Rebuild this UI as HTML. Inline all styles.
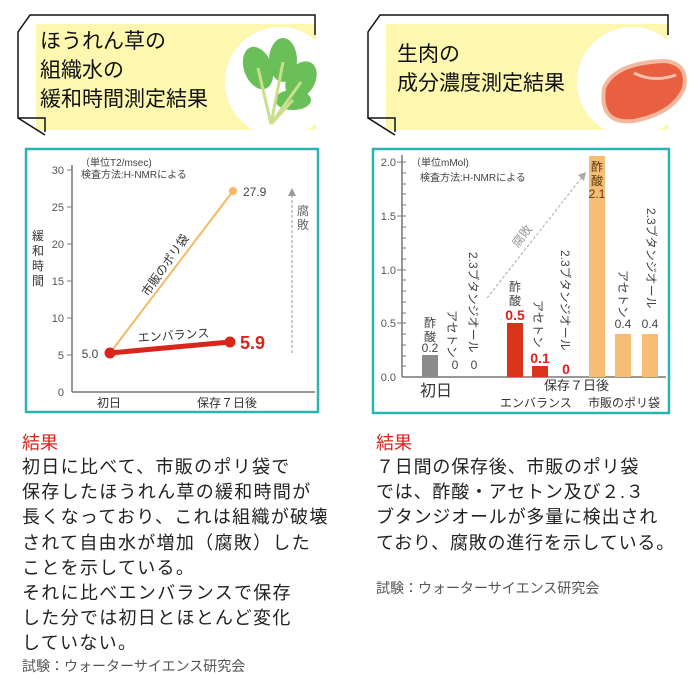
<!DOCTYPE html>
<html><head><meta charset="utf-8"><style>
body{margin:0;width:700px;height:700px;background:#fff;font-family:"Liberation Sans","Noto Sans CJK JP",sans-serif;overflow:hidden;position:relative}
.a{position:absolute;white-space:nowrap}
.t{font-size:18px;color:#222;line-height:25.2px}
.h{font-size:18px;color:#d9261c}
.s{font-size:14px;color:#555}
</style></head><body>
<svg width="700" height="700" style="position:absolute;left:0;top:0" font-family="Liberation Sans, Noto Sans CJK JP, sans-serif">
<rect x="36" y="24" width="280" height="106" fill="#fdf7b0"/>
<polyline points="45,132 45,118 18,118 18,32 30,15 315,15 315,35" fill="none" stroke="#111" stroke-width="1.5"/>
<polyline points="18,118 45,135" fill="none" stroke="#111" stroke-width="1.5"/>
<rect x="386" y="24" width="282" height="106" fill="#fdf7b0"/>
<polyline points="395,132 395,118 368,118 368,32 380,15 668,15 668,35" fill="none" stroke="#111" stroke-width="1.5"/>
<polyline points="368,118 395,135" fill="none" stroke="#111" stroke-width="1.5"/>
<circle cx="280" cy="82" r="55" fill="#fff"/>
<circle cx="632" cy="82" r="55" fill="#fff"/>
<g fill="#6bbf59"><ellipse cx="258" cy="68" rx="14" ry="22" transform="rotate(-20 258 68)"/><ellipse cx="283" cy="60" rx="14" ry="22"/><ellipse cx="301" cy="80" rx="14" ry="20" transform="rotate(30 301 80)"/><ellipse cx="293" cy="100" rx="18" ry="10"/></g>
<g stroke="#c8e08a" stroke-width="3"><line x1="271" y1="124" x2="258" y2="68"/><line x1="271" y1="124" x2="283" y2="62"/><line x1="271" y1="124" x2="301" y2="82"/><line x1="271" y1="124" x2="293" y2="100"/></g>
<path d="M604,88 Q614,63 664,61 Q689,63 684,88 Q674,113 634,121 Q599,125 604,88Z" fill="#e8603f" stroke="#f2b9a0" stroke-width="4"/>
<path d="M634,73 Q654,83 676,75" stroke="#f6c2ad" stroke-width="3" fill="none"/>
<rect x="26" y="149" width="292" height="263" fill="none" stroke="#2bb3b0" stroke-width="2.5"/>
<rect x="373" y="149" width="296" height="264" fill="none" stroke="#2bb3b0" stroke-width="2.5"/>
<g stroke="#777" stroke-width="1.5"><line x1="72" y1="165" x2="72" y2="392"/><line x1="72" y1="392" x2="315" y2="392"/></g>
<g stroke="#777" stroke-width="1"><line x1="67" y1="170" x2="72" y2="170"/><line x1="67" y1="207" x2="72" y2="207"/><line x1="67" y1="244" x2="72" y2="244"/><line x1="67" y1="281" x2="72" y2="281"/><line x1="67" y1="318" x2="72" y2="318"/><line x1="67" y1="355" x2="72" y2="355"/></g>
<g font-size="11" fill="#555" text-anchor="end"><text x="64" y="174">30</text><text x="64" y="211">25</text><text x="64" y="248">20</text><text x="64" y="285">15</text><text x="64" y="322">10</text><text x="64" y="359">5</text><text x="64" y="396">0</text></g>
<g font-size="10" fill="#444"><text x="80" y="166">（単位T2/msec)</text><text x="81" y="178">検査方法:H-NMRによる</text></g>
<g font-size="12" fill="#333"><text x="32" y="240">緩</text><text x="32" y="255">和</text><text x="32" y="270">時</text><text x="32" y="285">間</text></g>
<line x1="110" y1="353" x2="233" y2="191" stroke="#f7b766" stroke-width="2"/>
<circle cx="233" cy="191" r="4" fill="#f7b766"/>
<line x1="110" y1="353" x2="230" y2="342" stroke="#d9261c" stroke-width="5"/>
<circle cx="110" cy="353" r="5.5" fill="#d9261c"/><circle cx="230" cy="342" r="5.5" fill="#d9261c"/>
<text x="90" y="358" font-size="12" fill="#444" text-anchor="middle">5.0</text>
<text x="243" y="196" font-size="12" fill="#444">27.9</text>
<text x="240" y="349" font-size="18" font-weight="bold" fill="#d9261c">5.9</text>
<text x="138" y="342" font-size="12" fill="#333" transform="rotate(-4 138 342)">エンバランス</text>
<text x="148" y="297" font-size="12" fill="#333" transform="rotate(-55 148 297)">市販のポリ袋</text>
<line x1="292" y1="195" x2="292" y2="355" stroke="#999" stroke-dasharray="3,2"/>
<polygon points="288,196 296,196 292,188" fill="#999"/>
<text x="297" y="215" font-size="12" fill="#666">腐</text><text x="297" y="229" font-size="12" fill="#666">敗</text>
<g font-size="12" fill="#333"><text x="97" y="407">初日</text><text x="197" y="407">保存７日後</text></g>
<g stroke="#777" stroke-width="1.5"><line x1="402" y1="155" x2="402" y2="377"/><line x1="402" y1="377" x2="666" y2="377"/></g>
<g stroke="#777" stroke-width="1">
<line x1="397" y1="162" x2="406" y2="162"/><line x1="397" y1="216" x2="406" y2="216"/><line x1="397" y1="270" x2="406" y2="270"/><line x1="397" y1="323" x2="406" y2="323"/>
<line x1="402" y1="173" x2="406" y2="173"/><line x1="402" y1="184" x2="406" y2="184"/><line x1="402" y1="194" x2="406" y2="194"/><line x1="402" y1="205" x2="406" y2="205"/><line x1="402" y1="227" x2="406" y2="227"/><line x1="402" y1="238" x2="406" y2="238"/><line x1="402" y1="248" x2="406" y2="248"/><line x1="402" y1="259" x2="406" y2="259"/><line x1="402" y1="280" x2="406" y2="280"/><line x1="402" y1="291" x2="406" y2="291"/><line x1="402" y1="302" x2="406" y2="302"/><line x1="402" y1="313" x2="406" y2="313"/><line x1="402" y1="334" x2="406" y2="334"/><line x1="402" y1="345" x2="406" y2="345"/><line x1="402" y1="356" x2="406" y2="356"/><line x1="402" y1="366" x2="406" y2="366"/></g>
<g font-size="11" fill="#555" text-anchor="end"><text x="396" y="166">2.0</text><text x="396" y="220">1.5</text><text x="396" y="274">1.0</text><text x="396" y="327">0.5</text><text x="396" y="381">0.0</text></g>
<g font-size="10" fill="#444"><text x="411" y="166">（単位mMol)</text><text x="420" y="181">検査方法:H-NMRによる</text></g>
<rect x="422" y="355" width="16" height="22" fill="#8c8c8c"/>
<rect x="507" y="323" width="16" height="54" fill="#d9331c"/>
<rect x="532" y="366" width="16" height="11" fill="#d9331c"/>
<rect x="589" y="156" width="16" height="221" fill="#f8bd74"/>
<rect x="615" y="334" width="16" height="43" fill="#f8bd74"/>
<rect x="642" y="334" width="16" height="43" fill="#f8bd74"/>
<line x1="487" y1="298" x2="583" y2="176" stroke="#aaa" stroke-dasharray="3,2"/>
<polygon points="586,172 578,175 584,181" fill="#aaa"/>
<text x="518" y="248" font-size="12" fill="#999" transform="rotate(-52 518 248)">腐敗</text>
<g font-size="12" fill="#444" text-anchor="middle">
<text x="430" y="327">酢</text><text x="430" y="341">酸</text><text x="430" y="352">0.2</text>
<text x="455" y="369">0</text><text x="474" y="369">0</text>
<text x="515" y="291">酢</text><text x="515" y="305">酸</text>
<text x="597" y="171" fill="#5a3a10">酢</text><text x="597" y="185" fill="#5a3a10">酸</text><text x="597" y="198" fill="#5a3a10">2.1</text>
<text x="623" y="328">0.4</text><text x="650" y="328">0.4</text>
</g>
<g font-size="14" font-weight="bold" fill="#e0201c" text-anchor="middle"><text x="515" y="320">0.5</text><text x="540" y="363">0.1</text><text x="566" y="374">0</text></g>
<g font-size="12" fill="#444">
<text x="448" y="310" transform="rotate(90 448 310)">アセトン</text>
<text x="469" y="252" transform="rotate(90 469 252)">2.3ブタンジオール</text>
<text x="534" y="300" transform="rotate(90 534 300)">アセトン</text>
<text x="561" y="250" transform="rotate(90 561 250)">2.3ブタンジオール</text>
<text x="619" y="270" transform="rotate(90 619 270)">アセトン</text>
<text x="647" y="208" transform="rotate(90 647 208)">2.3ブタンジオール</text>
</g>
<text x="420" y="396" font-size="16" fill="#333">初日</text>
<text x="544" y="390" font-size="13" fill="#333">保存７日後</text>
<text x="500" y="407" font-size="12" fill="#333">エンバランス</text>
<text x="588" y="407" font-size="12" fill="#333">市販のポリ袋</text>
</svg>
<div class="a h" style="left:22px;top:429px">結果</div>
<div class="a t" style="left:22px;top:455px;letter-spacing:1.3px">初日に比べて、市販のポリ袋で<br>保存したほうれん草の緩和時間が<br>長くなっており、これは組織が破壊<br>されて自由水が増加（腐敗）した<br>ことを示している。<br>それに比べエンバランスで保存<br>した分では初日とほとんど変化<br>していない。</div>
<div class="a s" style="left:22px;top:656px">試験：ウォーターサイエンス研究会</div>
<div class="a h" style="left:376px;top:429px">結果</div>
<div class="a t" style="left:376px;top:455px;letter-spacing:0.8px">７日間の保存後、市販のポリ袋<br>では、酢酸・アセトン及び２.３<br>ブタンジオールが多量に検出され<br>ており、腐敗の進行を示している。</div>
<div class="a s" style="left:376px;top:578px">試験：ウォーターサイエンス研究会</div>
<div class="a" style="left:40px;top:27px;font-size:21px;line-height:29px;color:#111">ほうれん草の<br>組織水の<br>緩和時間測定結果</div>
<div class="a" style="left:397px;top:40px;font-size:21px;line-height:29px;color:#111">生肉の<br>成分濃度測定結果</div>
</body></html>
